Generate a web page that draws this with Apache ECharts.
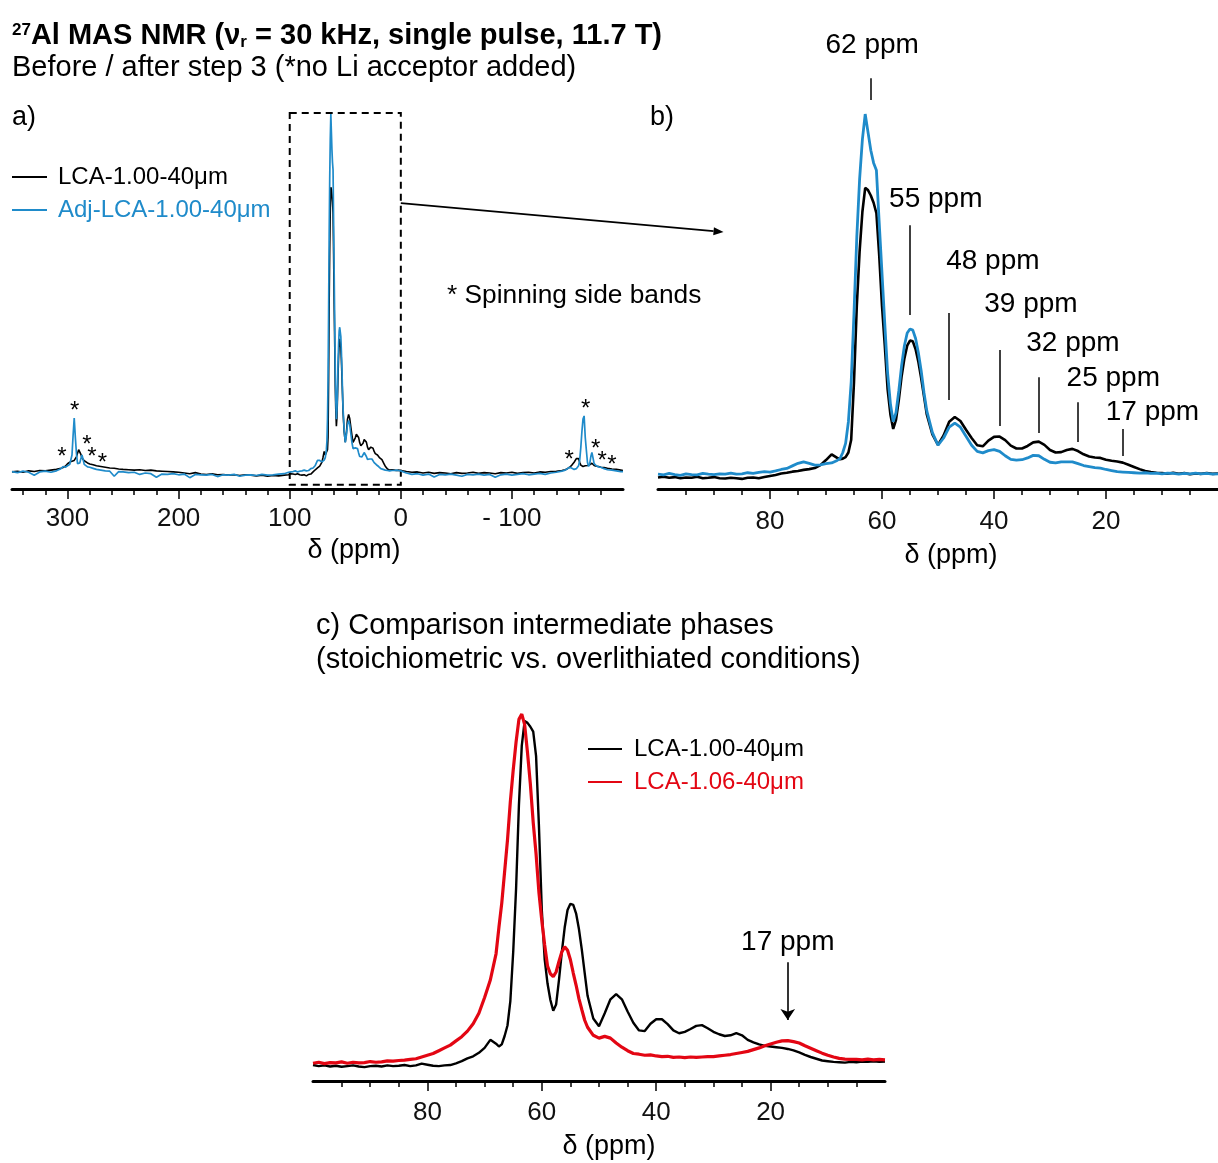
<!DOCTYPE html>
<html>
<head>
<meta charset="utf-8">
<title>27Al MAS NMR</title>
<script src="https://cdn.jsdelivr.net/npm/echarts@6.0.0/dist/echarts.min.js"></script>
<style>
  html, body { margin: 0; padding: 0; background: #ffffff; }
  #chart { width: 1218px; height: 1163px; }
</style>
</head>
<body>
<div id="chart"></div>
<script>
// ---------- chemical shift grids (ppm) ----------
// central band, 100 -> 0 ppm (denser sampling across the main peaks)
const ppmFine = [100,99,98,97,96,95,94,93,92,91,90,89,88,87,86,85,84,83,82,81,80,79,78,77,76,75,74,73,72,71,70,69,68,
  67.5,67,66.5,66,65.5,65,64.5,64,63.5,63,62.5,62,61.5,61,60.5,60,59.5,59,58.5,58,57.5,57,56.5,56,55.5,55,54.5,54,53.5,53,52.5,
  52,51,50,49,48,47,46,45,44,43,42,41,40,39,38,37,36,35,34,33,32,31,30,29,28,27,26,25,24,23,22,21,20,19,18,17,16,15,14,13,12,11,10,9,8,7,6,5,4,3,2,1,0];
// high-frequency side of the wide sweep (350 -> 101 ppm)
const ppmWideLeft = [350,345,340,335,330,325,320,315,310,306,304,302,300,298,
  296,295,294,293,292,291,290,289,288,287,286,285,284,282,280,277,274,
  270,266,262,258,254,250,245,240,235,230,225,220,215,210,205,200,195,190,185,180,175,170,165,160,155,150,145,140,135,130,125,120,115,110,105,101];
// low-frequency side of the wide sweep (-1 -> -200 ppm)
const ppmWideRight = [-1,-5,-10,-15,-20,-25,-30,-35,-40,-45,-50,-55,-60,-65,-70,-75,-80,-85,-90,-95,-100,-105,-110,-115,-120,-125,-130,-135,-140,-145,
  -148,-150,-152,-154,-156,-158,-159,-160,-161,-162,-163,-164,-165,-166,-167,-168,-169,-170,-171,-172,-173,-174,
  -176,-178,-180,-183,-186,-190,-194,-198,-200];

// ---------- LCA-1.00-40μm vs Adj-LCA-1.00-40μm (intensity, blue max = 100) ----------
const blackB = [-0.4,-0.2,-0.5,-0.3,-0.6,-0.4,-0.5,-0.2,-0.6,-0.5,-0.3,-0.6,-0.7,-0.5,-0.6,-0.8,-0.5,-0.4,-0.6,-0.3,0.0,0.3,0.7,0.9,1.2,1.4,1.7,1.9,2.2,3.0,4.4,6.0,5.0,
  4.6,4.8,5.2,6.5,10,26,47,62,73,79.6,79,77.5,75.5,72.6,61,47,36,24,17,13,15.5,21,27.5,32.5,36,37.4,37.2,35,31.5,27,22,
  17,11.5,8.6,11.2,15,16.3,15.2,12.8,10.5,8.5,8.2,9.8,10.8,10.9,9.9,8.4,7.6,7.6,8.3,9.3,9.5,8.6,7.2,6.5,6.6,7.2,7.5,6.9,6.0,5.4,5.1,5.0,4.5,4.2,4.0,3.7,3.1,2.5,1.9,1.4,1.1,0.9,0.8,0.6,0.9,0.6,0.8,0.5,0.7,0.6,0.8,0.6,0.7];
const blueB = [0.5,0.3,0.7,0.4,0.2,0.6,0.4,0.3,0.7,0.5,0.4,0.6,0.5,0.8,0.5,0.6,0.9,0.7,1.0,1.2,1.1,1.4,1.8,2.1,2.8,3.5,3.9,3.5,3.0,3.1,3.4,3.6,4.3,
  4.8,6.5,9,15,26,45,66,82,93,100,95,90,86.5,84.5,70,56,42,28.5,20,15,17.5,23.5,30.5,36,39.5,40.6,40.3,38,34,29,23,
  18,12,8.5,10.5,13.5,14.6,13.5,11,8.5,6.8,6.4,7.0,7.3,6.8,5.6,4.6,4.4,4.5,5.0,5.7,5.6,4.6,3.8,3.6,3.9,3.9,3.9,3.4,2.9,2.6,2.3,2.2,1.8,1.5,1.2,1.1,1.0,0.9,0.8,0.9,0.7,0.8,0.6,0.8,0.7,0.5,0.7,0.6,0.8,0.6,0.7,0.5,0.6];
// spinning side bands and baseline outside the central band
const blackWideLeft = [0.3,0.5,0.2,0.6,0.4,0.7,0.6,0.8,1.0,1.3,1.5,1.9,2.6,3.0,
  3.3,3.4,3.5,3.8,4.5,5.5,6.5,6.9,5.2,4.2,4.0,3.4,3.1,2.8,2.5,2.3,2.0,
  1.8,1.6,1.4,1.3,1.1,1.0,0.9,0.8,0.9,0.7,0.8,0.6,0.5,0.4,0.3,0.2,0.0,-0.2,0.1,-0.3,-0.4,-0.2,-0.5,-0.4,-0.6,-0.5,-0.7,-0.5,-0.6,-0.8,-0.6,-0.9,-0.7,-0.8,-0.6,-0.5];
const blueWideLeft = [0.4,0.1,0.5,0.2,-0.6,0.3,0.5,0.2,0.6,1.2,1.8,1.6,2.0,2.4,
  5.0,10.5,15.3,10.0,5.5,2.6,2.2,2.8,4.0,5.0,3.8,2.4,1.9,1.7,1.6,1.3,1.0,
  0.8,0.6,0.5,-0.9,0.4,0.3,0.1,0.2,-0.4,0.0,-0.2,-1.2,-0.3,-0.4,-0.2,-0.5,-0.3,-1.3,-0.4,-0.5,-0.6,-0.4,-1.0,-0.5,-0.6,-0.4,-0.9,-0.6,-0.5,-0.7,-0.4,-0.6,-0.5,-0.3,-0.2,0.2];
const blackWideRight = [0.6,0.4,0.2,0.3,0.0,0.2,-0.1,0.1,0.0,-0.2,0.1,-0.1,0.0,0.2,-0.1,0.1,0.0,-0.2,0.1,0.0,0.2,-0.1,0.1,0.2,0.0,0.3,0.2,0.4,0.5,0.7,
  0.9,1.2,1.6,2.2,3.0,4.0,4.4,4.0,3.0,2.2,1.9,1.8,1.8,2.0,2.2,2.1,2.0,2.3,2.6,2.7,2.4,2.1,
  1.9,1.8,1.6,1.5,1.3,1.1,1.0,0.8,0.7];
const blueWideRight = [0.5,0.0,-0.4,-0.2,-0.6,-0.3,-1.1,-0.4,-0.5,-0.3,-0.6,-0.9,-0.4,-0.5,-0.3,-0.6,-0.4,-1.2,-0.5,-0.3,-0.6,-0.4,-0.2,-0.5,-0.3,-0.1,-0.4,0.0,0.2,0.5,
  0.8,1.2,1.6,1.3,1.0,1.2,1.5,2.0,3.5,7.0,11.5,15.0,15.9,10.0,6.4,3.0,1.8,2.5,4.5,5.7,4.2,2.6,
  2.0,1.7,1.6,1.2,0.9,0.8,0.6,0.4,0.4];

// ---------- LCA-1.00-40μm vs LCA-1.06-40μm (each normalised to ~100) ----------
const blackC = [-0.3,-0.6,-0.4,-0.7,-0.5,-0.8,-0.6,-0.4,-0.7,-0.9,-0.6,-0.5,-0.7,-0.4,-0.6,-0.5,-0.3,-0.6,-0.4,0.1,-0.2,-0.5,-0.6,-0.4,-0.3,0.2,0.8,1.6,2.2,3.2,4.6,6.9,5.8,
  5.0,5.6,8,11,18,32,50,74,91,98,97.5,96.4,95,88,68,44,30,23,18.3,15.2,17,24,32,39,44,45.8,45.5,43,38.5,32.6,26,
  19.5,13,10.8,14.5,18.5,20,18.5,15,11.8,9.6,9.4,11.5,12.8,12.8,11.4,9.6,8.8,9.2,10,10.9,11.1,10.2,9.2,8.5,8.0,8.2,8.8,8.2,6.9,6.2,5.6,5.2,5.0,4.8,4.6,4.3,3.9,3.3,2.6,2.0,1.5,1.0,0.8,0.6,0.5,0.4,0.6,0.5,0.7,0.6,0.8,0.6,0.7];
const redC = [0.2,0.5,0.1,0.4,0.3,0.6,0.2,0.5,0.3,0.4,0.7,0.5,0.6,0.9,0.8,1.0,1.1,1.3,1.5,2.0,2.5,3.0,3.8,4.6,5.4,6.6,7.8,9.4,11.5,14.5,19,24,31.5,
  39,46,55,64,75,84,92,98.5,100,97,89,80,69,60,49,41,34,28,25.8,25,26.3,29.3,32,33.5,32.5,29.8,26,22.5,18.6,15.5,12.5,
  10.5,8.2,7.4,7.9,7.4,6.0,4.8,3.8,3.0,2.8,2.5,2.6,2.3,2.1,2.2,1.9,2.0,1.8,2.0,1.9,2.0,2.1,2.1,2.3,2.5,2.7,3.0,3.3,3.6,4.1,4.6,5.2,5.7,6.2,6.6,6.7,6.4,6.0,5.2,4.5,3.8,3.1,2.5,2.0,1.6,1.4,1.3,1.3,1.2,1.4,1.2,1.3,1.2];

// ---------- labelled shifts and axis ticks ----------
const peakShiftsB = [62, 55, 48, 39, 32, 25, 17];
const peakShiftC = 17;
const zoomWindow = [100, 0];
const ticksA = [300, 200, 100, 0, -100];
const ticksBC = [80, 60, 40, 20];

// ---------- placement of annotations (value units of each panel) ----------
const peakLineTop = [109.9, 69.3, 45.0, 34.8, 27.3, 20.4, 13.0];
const peakLineBottom = [103.9, 44.5, 21.0, 13.8, 11.9, 9.4, 5.5];
const peakTextPos = [[61.75, 119.1], [50.4, 76.5], [40.2, 59.4], [33.4, 47.5], [25.9, 36.7], [18.7, 27.1], [11.7, 17.7]];
const starPos = [[305, 5.7], [293.5, 18.5], [282.6, 9], [278, 5.7], [268.6, 4.1],
  [-151.6, 5], [-166.3, 19.2], [-175.5, 8.1], [-181.3, 4.5], [-190, 3.6]];
const boxTopBottom = [100.3, -3.3];
const arrowC = [29.1, 12.6, 34.9];
const linkFrom = [0, 75.2];      // on the dashed window edge (panel a)
const linkTo = [88.3, 67.4];     // arrow tip (panel b)

const BLUE = '#1f8bca';
const RED = '#e30613';
const INK = '#000000';
const FONT = "'Liberation Sans', Arial, Helvetica, sans-serif";

function pairs(xs, ys) { return xs.map(function (x, i) { return [x, ys[i]]; }); }

const wideBlack = pairs(ppmWideLeft, blackWideLeft).concat(pairs(ppmFine, blackB), pairs(ppmWideRight, blackWideRight));
const wideBlue = pairs(ppmWideLeft, blueWideLeft).concat(pairs(ppmFine, blueB), pairs(ppmWideRight, blueWideRight));

function ppmAxis(gridIndex, min, max, interval, minorSplit, tickVals, fmt, margin) {
  return {
    type: 'value', gridIndex: gridIndex, min: min, max: max, interval: interval,
    inverse: true, position: 'bottom',
    axisLine: { show: true, onZero: false, lineStyle: { color: '#000', width: 3 } },
    axisTick: { show: true, inside: false, length: 10, customValues: tickVals, lineStyle: { color: '#000', width: 1.5 } },
    minorTick: { show: true, splitNumber: minorSplit, length: 6, lineStyle: { color: '#000', width: 1.5 } },
    axisLabel: { show: true, customValues: tickVals, formatter: fmt, margin: margin, fontSize: 26, color: '#111', fontFamily: FONT },
    splitLine: { show: false }, minorSplitLine: { show: false }
  };
}
function hiddenY(gridIndex, min, max) {
  return { type: 'value', gridIndex: gridIndex, min: min, max: max, show: false, splitLine: { show: false } };
}
function trace(name, data, xi, color, width, z) {
  return {
    type: 'line', name: name, data: data, xAxisIndex: xi, yAxisIndex: xi,
    showSymbol: false, symbol: 'none', clip: true, z: z,
    lineStyle: { color: color, width: width }, itemStyle: { color: color },
    emphasis: { disabled: true }, silent: true, animation: false
  };
}

const chart = echarts.init(document.getElementById('chart'), null, { renderer: 'canvas' });

const aBlue = trace('Adj-LCA-1.00-40μm', wideBlue, 0, BLUE, 1.7, 3);
aBlue.markArea = {
  silent: true,
  itemStyle: { color: 'rgba(0,0,0,0)', borderColor: '#000', borderWidth: 2, borderType: [7, 5] },
  data: [[{ coord: [zoomWindow[0], boxTopBottom[0]] }, { coord: [zoomWindow[1], boxTopBottom[1]] }]]
};

const bBlue = trace('Adj-LCA-1.00-40μm', pairs(ppmFine, blueB), 1, BLUE, 2.8, 3);
bBlue.markLine = {
  silent: true, symbol: 'none', label: { show: false },
  lineStyle: { color: '#000', width: 1.5, type: 'solid' },
  data: peakShiftsB.map(function (p, i) { return [{ coord: [p, peakLineTop[i]] }, { coord: [p, peakLineBottom[i]] }]; })
};

const cRed = trace('LCA-1.06-40μm', pairs(ppmFine, redC), 2, RED, 3.2, 3);
cRed.markLine = {
  silent: true, symbol: ['none', 'arrow'], symbolSize: 11, label: { show: false },
  lineStyle: { color: '#000', width: 1.6, type: 'solid' },
  data: [[{ coord: [peakShiftC, arrowC[0]] }, { coord: [peakShiftC, arrowC[1]] }]]
};

const legendText = { fontSize: 24, fontFamily: FONT, color: INK };

const option = {
  animation: false,
  backgroundColor: '#ffffff',
  textStyle: { fontFamily: FONT },
  grid: [
    { left: 12, top: 100, width: 611, height: 389 },
    { left: 658, top: 25, width: 572, height: 464 },
    { left: 313, top: 690, width: 572, height: 391 }
  ],
  xAxis: [
    ppmAxis(0, -200, 350, 100, 5, ticksA, function (v) { return v < 0 ? '- ' + Math.abs(v) : String(v); }, 17),
    ppmAxis(1, 0, 100, 20, 4, ticksBC, function (v) { return String(v); }, 20),
    ppmAxis(2, 0, 100, 20, 4, ticksBC, function (v) { return String(v); }, 19)
  ],
  yAxis: [hiddenY(0, -4.46, 103.9), hiddenY(1, -3.59, 124.6), hiddenY(2, -4.86, 106.9)],
  legend: [
    {
      orient: 'vertical', left: 12, top: 165, padding: 0, icon: 'rect', itemWidth: 35, itemHeight: 2, itemGap: 9, selectedMode: false,
      textStyle: Object.assign({ padding: [0, 0, 0, 6] }, legendText),
      data: [
        { name: 'LCA-1.00-40μm', textStyle: { color: INK } },
        { name: 'Adj-LCA-1.00-40μm', textStyle: { color: BLUE } }
      ]
    },
    {
      orient: 'vertical', left: 588, top: 737, padding: 0, icon: 'rect', itemWidth: 34, itemHeight: 2, itemGap: 9, selectedMode: false,
      textStyle: Object.assign({ padding: [0, 0, 0, 7] }, legendText),
      data: [
        { name: 'LCA-1.00-40μm', textStyle: { color: INK } },
        { name: 'LCA-1.06-40μm', textStyle: { color: RED } }
      ]
    }
  ],
  series: [
    trace('LCA-1.00-40μm', wideBlack, 0, '#000', 1.6, 2),
    aBlue,
    trace('LCA-1.00-40μm', pairs(ppmFine, blackB), 1, '#000', 2.6, 2),
    bBlue,
    trace('LCA-1.00-40μm', pairs(ppmFine, blackC), 2, '#000', 2.4, 2),
    cRed
  ]
};
chart.setOption(option);

// ---------- free text, annotation labels and the link arrow ----------
function label(x, y, text, size, opts) {
  opts = opts || {};
  return {
    type: 'text', x: x, y: y, silent: true, z: 20,
    style: {
      text: text, fontSize: size, fontFamily: FONT, fontWeight: opts.bold ? 'bold' : 'normal',
      fill: opts.color || INK, align: opts.align || 'left', verticalAlign: 'middle'
    }
  };
}
function at(gridIndex, coord) { return chart.convertToPixel({ gridIndex: gridIndex }, coord); }

const graphics = [
  {
    type: 'text', x: 12, y: 36, silent: true,
    style: {
      text: '{sup|27}{t|Al MAS NMR (ν}{sub|r}{t| = 30 kHz, single pulse, 11.7 T)}',
      verticalAlign: 'middle', align: 'left',
      rich: {
        t: { fontSize: 29, fontWeight: 'bold', fontFamily: FONT, fill: INK },
        sup: { fontSize: 17, fontWeight: 'bold', fontFamily: FONT, fill: INK, verticalAlign: 'top' },
        sub: { fontSize: 17, fontWeight: 'bold', fontFamily: FONT, fill: INK, verticalAlign: 'bottom' }
      }
    }
  },
  label(12, 68, 'Before / after step 3 (*no Li acceptor added)', 29),
  label(12, 118, 'a)', 27),
  label(650, 118, 'b)', 27),
  label(447, 296, '* Spinning side bands', 26.3),
  label(354, 551, 'δ (ppm)', 27, { align: 'center' }),
  label(951, 556, 'δ (ppm)', 27, { align: 'center' }),
  label(609, 1147, 'δ (ppm)', 27, { align: 'center' }),
  label(316, 626, 'c) Comparison intermediate phases', 29),
  label(316, 660, '(stoichiometric vs. overlithiated conditions)', 29)
];

// side-band asterisks (panel a)
starPos.forEach(function (p) {
  const q = at(0, p);
  graphics.push(label(q[0], q[1] + 5, '*', 24, { align: 'center' }));
});
// peak labels (panel b)
peakShiftsB.forEach(function (s, i) {
  const q = at(1, peakTextPos[i]);
  graphics.push(label(q[0], q[1], s + ' ppm', 28, { align: 'center' }));
});
// peak label (panel c)
const qc = at(2, [peakShiftC, arrowC[2]]);
graphics.push(label(qc[0], qc[1], peakShiftC + ' ppm', 28, { align: 'center' }));

// arrow from the dashed window to panel b
const p0 = at(0, linkFrom);
const p1 = at(1, linkTo);
const ddx = p1[0] - p0[0], ddy = p1[1] - p0[1], len = Math.sqrt(ddx * ddx + ddy * ddy);
const ux = ddx / len, uy = ddy / len;
const headL = 10, headW = 4;
const baseX = p1[0] - ux * headL, baseY = p1[1] - uy * headL;
graphics.push({
  type: 'line', silent: true,
  shape: { x1: p0[0], y1: p0[1], x2: baseX, y2: baseY },
  style: { stroke: '#000', lineWidth: 1.8 }
});
graphics.push({
  type: 'polygon', silent: true,
  shape: { points: [[p1[0], p1[1]], [baseX - uy * headW, baseY + ux * headW], [baseX + uy * headW, baseY - ux * headW]] },
  style: { fill: '#000' }
});

chart.setOption({ graphic: graphics });
</script>
</body>
</html>
